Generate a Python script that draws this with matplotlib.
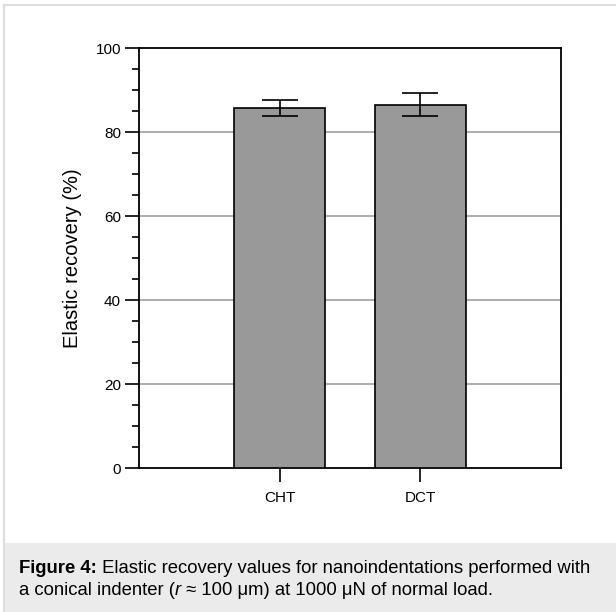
import matplotlib
matplotlib.use("Agg")
import matplotlib.pyplot as plt
from matplotlib.patches import Rectangle
from matplotlib.ticker import MultipleLocator

plt.rcParams['font.family'] = ['Liberation Sans', 'DejaVu Sans']

categories = ["CHT", "DCT"]
values = [85.9, 86.6]
errors_low = [2.0, 2.7]
errors_high = [1.8, 2.7]
yticks = [0, 20, 40, 60, 80, 100]

fig = plt.figure(figsize=(6.16, 6.12), dpi=100)
W, H = 616, 612

# frame and caption background
fig.patches.append(Rectangle((4 / W, -0.01), 1, (H - 5) / H + 0.01, transform=fig.transFigure,
                             facecolor='white', edgecolor='#dddddd', lw=1.5, zorder=-2))
fig.patches.append(Rectangle((4.8 / W, 0), 1, (H - 543) / H, transform=fig.transFigure,
                             facecolor='#ebebeb', edgecolor='none', zorder=-1))

ax = fig.add_axes([139 / W, (H - 468.3) / H, 422 / W, 420 / H])
ax.set_zorder(2)
x = [1, 2]
ax.bar(x, values, width=0.65, color='#999999', edgecolor='black', linewidth=1.2, zorder=3)
ax.errorbar(x, values, yerr=[errors_low, errors_high], fmt='none', ecolor='black',
            elinewidth=1.2, capsize=12.8, capthick=1.2, zorder=4)
ax.set_xlim(0, 3)
ax.set_ylim(0, 100)
ax.set_xticks(x)
ax.set_xticklabels(categories, fontsize=11)
ax.set_yticks(yticks)
ax.set_yticklabels([str(v) for v in yticks], fontsize=11)
ax.yaxis.set_minor_locator(MultipleLocator(5))
ax.tick_params(axis='y', which='major', direction='out', length=10, width=1.2, pad=3)
ax.tick_params(axis='y', which='minor', direction='out', length=5, width=1.2)
ax.tick_params(axis='x', which='major', direction='out', length=10, width=1.2, pad=6)
for g in [20, 40, 60, 80]:
    ax.axhline(g, color='#a0a0a0', lw=1.2, zorder=1)
for s in ax.spines.values():
    s.set_linewidth(1.3)
ax.set_ylabel("Elastic recovery (%)", fontsize=14.5, labelpad=10)

# caption
fig.canvas.draw()
renderer = fig.canvas.get_renderer()

def write_line(pieces, x0, y0):
    xx = x0
    for txt, kw in pieces:
        t = fig.text(xx / W, 1 - y0 / H, txt, fontsize=13.3, va='baseline', ha='left', zorder=5, **kw)
        bb = t.get_window_extent(renderer=renderer)
        xx += bb.width

write_line([("Figure 4:", dict(weight='bold')),
            (" Elastic recovery values for nanoindentations performed with", {})], 19, 573)
write_line([("a conical indenter (", {}), ("r", dict(style='italic')),
            (" ≈ 100 μm) at 1000 μN of normal load.", {})], 19, 595)

fig.savefig("out.png", dpi=100)
